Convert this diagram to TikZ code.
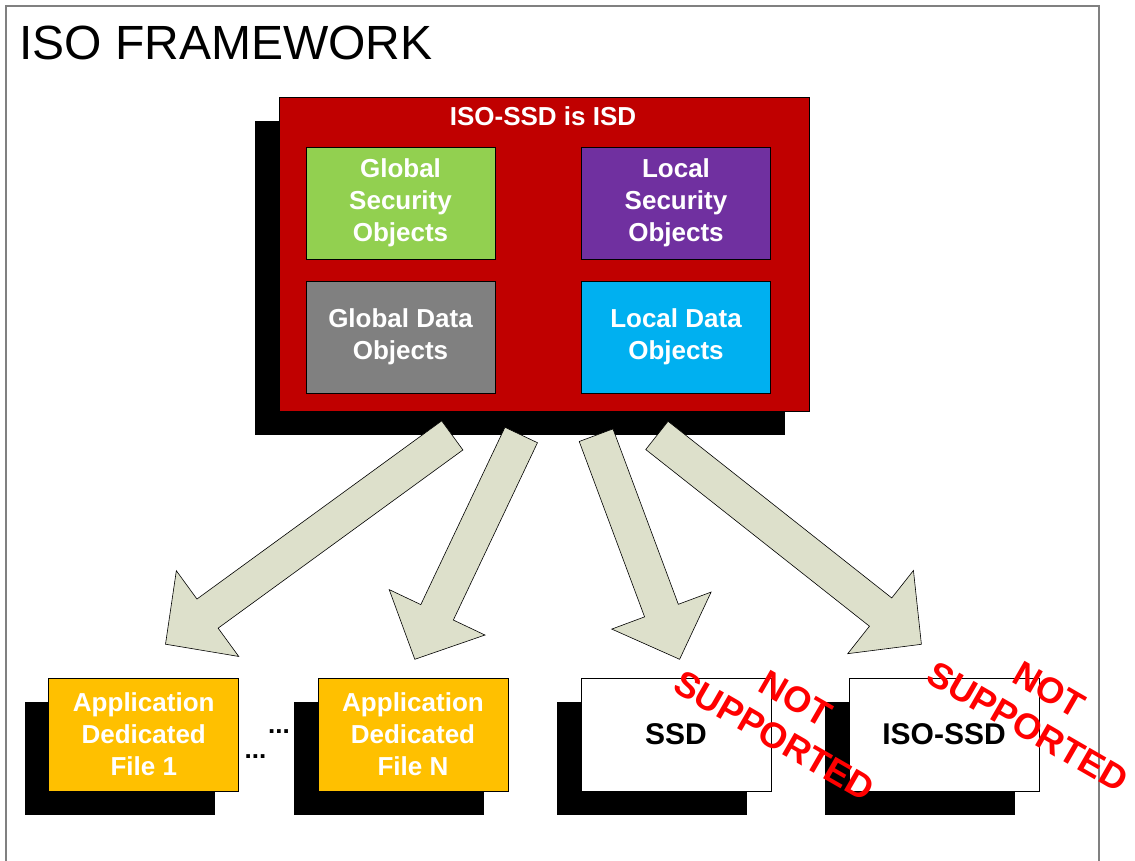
\documentclass[tikz,border=0pt]{standalone}
\usepackage{fontspec}
\setmainfont{Liberation Sans}
\usetikzlibrary{calc,shadows}
\definecolor{isdred}{HTML}{C00000}
\definecolor{gsogreen}{HTML}{92D050}
\definecolor{lsopurple}{HTML}{7030A0}
\definecolor{gdogray}{HTML}{808080}
\definecolor{ldocyan}{HTML}{00B0F0}
\definecolor{adfyellow}{HTML}{FFC000}
\definecolor{arrowfill}{HTML}{DDE0CB}
\definecolor{notred}{HTML}{FF0000}
\definecolor{framegray}{HTML}{808080}
\newcommand\isoarrow[2]{%
  \coordinate (#1m) at ($(#2)!52pt!(#1)$);
  \draw[barrow] ($(#1)!18pt!90:(#2)$) -- ($(#1m)!18pt!90:(#2)$) -- ($(#1m)!53pt!90:(#2)$) -- (#2)
     -- ($(#1m)!53pt!-90:(#2)$) -- ($(#1m)!18pt!-90:(#2)$) -- ($(#1)!18pt!-90:(#2)$) -- cycle;}
\begin{document}
\begin{tikzpicture}[x=1pt,y=-1pt,
  boldtext/.style={font=\fontsize{26}{32}\selectfont\bfseries},
  shadowed/.style={drop shadow={shadow xshift=-24pt, shadow yshift=-24pt, fill=black, opacity=1}},
  objbox/.style={draw=black, line width=0.8pt, minimum width=189pt, minimum height=112pt,
     inner sep=0pt, align=center, boldtext, text=white},
  filebox/.style={shadowed, draw=black, line width=0.8pt, minimum width=190pt, minimum height=113pt,
     inner sep=0pt, align=center, boldtext},
  barrow/.style={draw=black, line width=0.6pt, fill=arrowfill, line join=miter},
  notsup/.style={text=notred, font=\fontsize{36}{43}\selectfont\bfseries, align=center,
     rotate=-30, inner sep=0pt},
  dots/.style={font=\fontsize{26}{32}\selectfont\bfseries, inner sep=0pt}
]
\useasboundingbox (0,0) rectangle (1135,861);
% frame
\draw[framegray, line width=2pt] (6,861) -- (6,6) -- (1099,6) -- (1099,861);
\node[anchor=base west, inner sep=0pt, font=\fontsize{48}{56}\selectfont] (title) at (19,60) {ISO FRAMEWORK};

% ISD box
\node[shadowed, draw=black, line width=0.8pt, fill=isdred, minimum width=530pt,
      minimum height=314pt, inner sep=0pt] (isd) at (544,254) {};
\node[anchor=base, inner sep=0pt, boldtext, text=white] (isdtitle) at (543,126) {ISO-SSD is ISD};
\node[objbox, fill=gsogreen] (gso) at (400.5,203) {Global\\Security\\Objects};
\node[objbox, fill=lsopurple] (lso) at (676,203) {Local\\Security\\Objects};
\node[objbox, fill=gdogray] (gdo) at (400.5,337) {Global Data\\Objects};
\node[objbox, fill=ldocyan] (ldo) at (676,337) {Local Data\\Objects};

% block arrows
\coordinate (t1) at (452.3,435.4); \coordinate (p1) at (165.5,644.2);
\coordinate (t2) at (521.2,435.0); \coordinate (p2) at (414.8,659.3);
\coordinate (t3) at (596.1,435.2); \coordinate (p3) at (679.6,659.3);
\coordinate (t4) at (656.9,435.4); \coordinate (p4) at (921.4,644.3);
\isoarrow{t1}{p1}
\isoarrow{t2}{p2}
\isoarrow{t3}{p3}
\isoarrow{t4}{p4}

% bottom files
\node[filebox, fill=adfyellow, text=white] (adf1) at (143.75,734.5) {Application\\Dedicated\\File 1};
\node[filebox, fill=adfyellow, text=white] (adfn) at (413,734.5) {Application\\Dedicated\\File N};
\node[filebox, fill=white, text=black, font=\fontsize{30}{36}\selectfont\bfseries] (ssd) at (676,734.5) {SSD};
\node[filebox, fill=white, text=black, font=\fontsize{30}{36}\selectfont\bfseries] (isossd) at (944,734.5) {ISO-SSD};

\node[dots] (dotsa) at (279,732) {...};
\node[dots] (dotsb) at (255.5,757) {...};

% not supported stamps
\node[notsup] (ns1) at (785,717) {NOT\\SUPPORTED};
\node[notsup] (ns2) at (1038.5,708) {NOT\\SUPPORTED};
\end{tikzpicture}
\end{document}
